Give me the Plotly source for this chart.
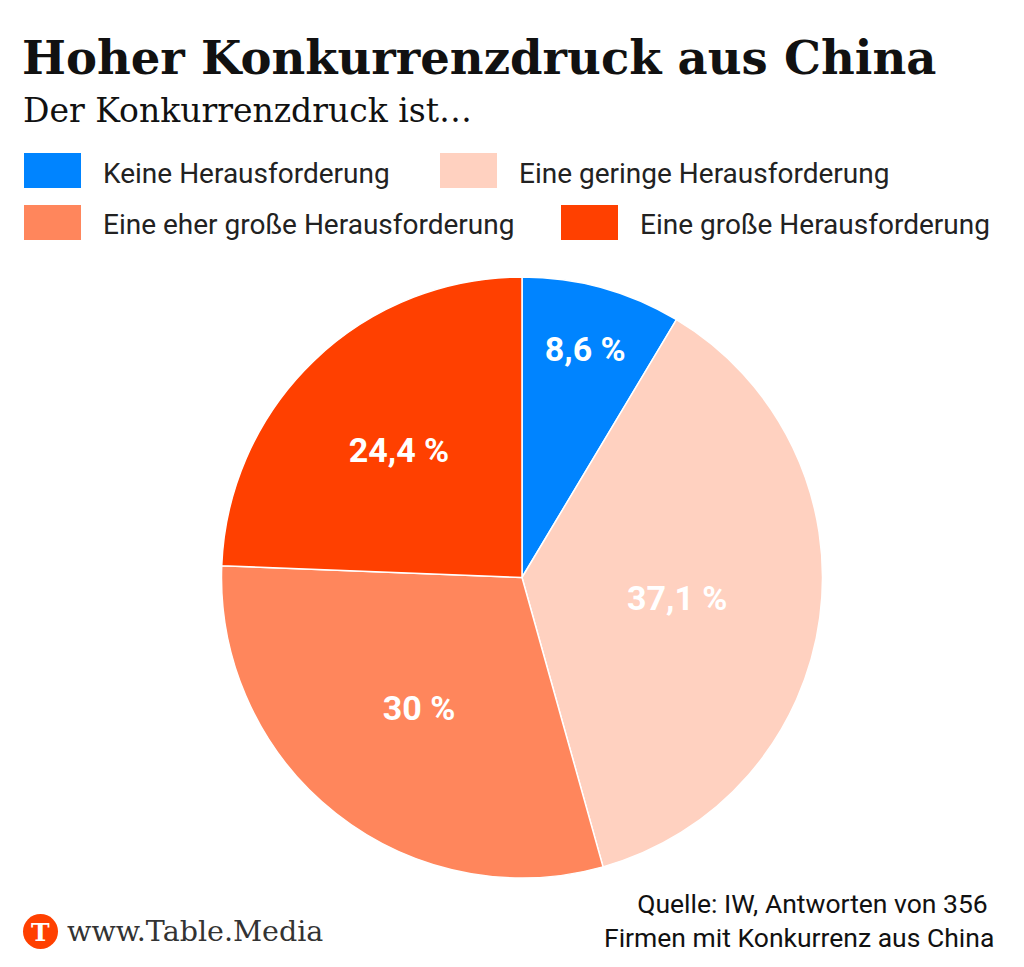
import plotly.graph_objects as go

# Data
categories = ["Keine Herausforderung", "Eine geringe Herausforderung",
              "Eine eher große Herausforderung", "Eine große Herausforderung"]
shares = [8.6, 37.1, 30, 24.4]
colors = ["#0084FF", "#FFD1C0", "#FF865C", "#FF4000"]

title = "Hoher Konkurrenzdruck aus China"
subtitle = "Der Konkurrenzdruck ist…"
source = "Quelle: IW, Antworten von 356 <br>Firmen mit Konkurrenz aus China"

W, H = 1024, 967
OFF = 8  # page body margin


def px(x):
    return (x - OFF) / W


def py(y):
    return 1 - (y - OFF) / H


fig = go.Figure()
fig.add_trace(go.Pie(
    labels=categories,
    values=shares,
    sort=False,
    direction="clockwise",
    rotation=0,
    marker=dict(colors=colors, line=dict(color="white", width=1.5)),
    texttemplate="%{value} %",
    textposition="inside",
    insidetextorientation="horizontal",
    textfont=dict(family="Roboto", size=34, color="white", weight="bold"),
    hoverinfo="label+percent",
    showlegend=False,
    domain=dict(x=[px(221), px(823)], y=[py(878), py(277)]),
))

# Manual 2x2 legend
legend_pos = [(24, 153), (440, 153), (24, 205), (561, 205)]
for (lx, ly), name, col in zip(legend_pos, categories, colors):
    fig.add_shape(type="rect", xref="paper", yref="paper",
                  x0=px(lx), x1=px(lx + 57), y0=py(ly), y1=py(ly + 35),
                  fillcolor=col, line=dict(width=0))
    fig.add_annotation(xref="paper", yref="paper", x=px(lx + 77), y=py(ly + 20),
                       text=name, showarrow=False, xanchor="left", yanchor="middle",
                       font=dict(family="Roboto", size=28, color="#222222"))

# Title and subtitle
fig.add_annotation(xref="paper", yref="paper", x=px(20), y=py(58), text="<b>" + title + "</b>",
                   showarrow=False, xanchor="left", yanchor="middle",
                   font=dict(family="DejaVu Serif", size=46.5, color="#111111"))
fig.add_annotation(xref="paper", yref="paper", x=px(21), y=py(110), text=subtitle,
                   showarrow=False, xanchor="left", yanchor="middle",
                   font=dict(family="DejaVu Serif", size=33, color="#111111"))

# Footer
fig.add_shape(type="circle", xref="paper", yref="paper",
              x0=px(23), x1=px(58), y0=py(914), y1=py(949),
              fillcolor="#FF4000", line=dict(width=0))
fig.add_annotation(xref="paper", yref="paper", x=px(40.5), y=py(932), text="<b>T</b>",
                   showarrow=False, xanchor="center", yanchor="middle",
                   font=dict(family="DejaVu Serif", size=25, color="white"))
fig.add_annotation(xref="paper", yref="paper", x=px(65), y=py(931), text="www.Table.Media",
                   showarrow=False, xanchor="left", yanchor="middle",
                   font=dict(family="DejaVu Serif", size=28.5, color="#333333"))
fig.add_annotation(xref="paper", yref="paper", x=px(996), y=py(920), text=source,
                   showarrow=False, xanchor="right", yanchor="middle", align="right",
                   font=dict(family="Roboto", size=26.5, color="#111111"))

fig.update_layout(
    width=W, height=H,
    margin=dict(l=0, r=0, t=0, b=0),
    paper_bgcolor="white",
    plot_bgcolor="white",
    separators=",.",
)

fig.write_html("out.html")
